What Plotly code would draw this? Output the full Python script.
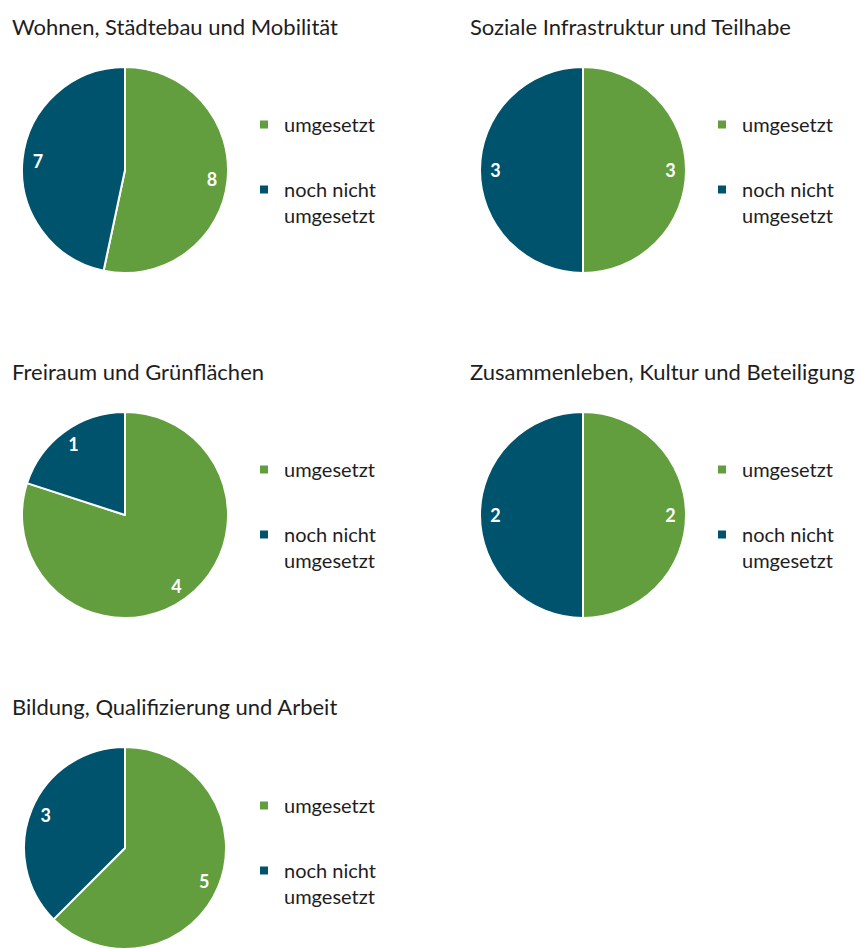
import plotly.graph_objects as go

W, H = 860, 949

titles = [
    "Wohnen, Städtebau und Mobilität",
    "Soziale Infrastruktur und Teilhabe",
    "Freiraum und Grünflächen",
    "Zusammenleben, Kultur und Beteiligung",
    "Bildung, Qualifizierung und Arbeit",
]
categories = ["umgesetzt", "noch nicht umgesetzt"]
legend_labels = ["umgesetzt", "noch nicht<br>umgesetzt"]
umgesetzt = [8, 3, 4, 2, 5]
noch_nicht = [7, 3, 1, 2, 3]

colors = ["#629D3E", "#00536D"]
FONT = "Lato, 'Open Sans', sans-serif"
TXT = "#1e1e1e"

# layout boxes in pixels: (center x, center y, radius, title x, title y, legend x, legend y)
boxes = [
    (125, 170, 103, 10, 27, 244, 105),
    (583, 170, 103, 468, 27, 702, 105),
    (125, 515, 103, 10, 371, 244, 450),
    (583, 515, 103, 468, 371, 702, 450),
    (125, 848, 101, 10, 706, 244, 786),
]

def px_x(x):
    return x / W

def px_y(y):
    return 1 - y / H

fig = go.Figure()
layout_legends = {}
annotations = []
for i, (title, u, n) in enumerate(zip(titles, umgesetzt, noch_nicht)):
    cx, cy, r, tx, ty, lx, ly = boxes[i]
    lname = "legend" if i == 0 else f"legend{i+1}"
    dom = dict(x=[px_x(cx - r), px_x(cx + r)], y=[px_y(cy + r), px_y(cy - r)])
    # coloured pie
    fig.add_trace(go.Pie(
        labels=categories,
        values=[u, n],
        sort=False,
        direction="clockwise",
        rotation=0,
        marker=dict(colors=colors, line=dict(color="white", width=2)),
        textinfo="none",
        domain=dom,
        showlegend=False,
        hoverinfo="label+value",
    ))
    # transparent ring carrying the value labels near the rim
    fig.add_trace(go.Pie(
        labels=categories,
        values=[u, n],
        sort=False,
        direction="clockwise",
        rotation=0,
        hole=0.7,
        marker=dict(colors=["rgba(0,0,0,0)", "rgba(0,0,0,0)"], line=dict(width=0)),
        textinfo="value",
        textposition="inside",
        insidetextorientation="horizontal",
        textfont=dict(color="white", size=18, family=FONT, weight="bold"),
        domain=dom,
        showlegend=False,
        hoverinfo="skip",
    ))
    # legend entries
    for k in range(2):
        fig.add_trace(go.Scatter(
            x=[None], y=[None], mode="markers",
            marker=dict(symbol="square", size=8, color=colors[k]),
            name=legend_labels[k],
            legend=lname,
            legendgroup=f"g{i}_{k}",
            showlegend=True,
            hoverinfo="skip",
        ))
    layout_legends[lname] = dict(
        x=px_x(lx), y=px_y(ly), xanchor="left", yanchor="top",
        font=dict(size=20, family=FONT, color=TXT),
        valign="top", bgcolor="rgba(0,0,0,0)",
        tracegroupgap=36, itemwidth=30,
    )
    annotations.append(dict(
        text=title, x=px_x(tx), y=px_y(ty), xref="paper", yref="paper",
        xanchor="left", yanchor="middle", showarrow=False,
        font=dict(size=22, family=FONT, color=TXT),
    ))

fig.update_layout(
    width=W, height=H,
    margin=dict(l=0, r=0, t=0, b=0),
    paper_bgcolor="white", plot_bgcolor="white",
    xaxis=dict(visible=False), yaxis=dict(visible=False),
    annotations=annotations,
    **layout_legends,
)

fig.write_html("out.html", config={"displayModeBar": False},
               post_script="document.body.style.margin='0';")
